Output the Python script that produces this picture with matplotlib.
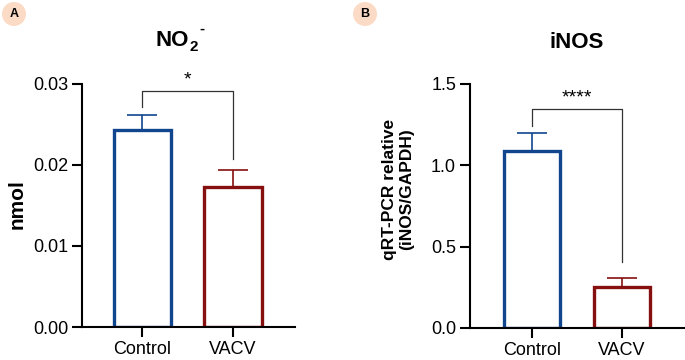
import matplotlib
matplotlib.use("Agg")
import matplotlib.pyplot as plt
from matplotlib.patches import Ellipse

plt.rcParams['font.family'] = ['Liberation Sans', 'DejaVu Sans']

groups = ["Control", "VACV"]
colors = ["#11468f", "#860f0f"]

# panel A: NO2- (nmol)
no2_mean = [0.0243, 0.0173]
no2_sem = [0.0019, 0.0021]
no2_ticks = [0.00, 0.01, 0.02, 0.03]
no2_ticklabels = ["0.00", "0.01", "0.02", "0.03"]
no2_bracket = [0.0272, 0.0291, 0.0207]  # left leg end, top, right leg end
no2_sig = "*"

# panel B: iNOS qRT-PCR
inos_mean = [1.088, 0.25]
inos_sem = [0.11, 0.06]
inos_ticks = [0.0, 0.5, 1.0, 1.5]
inos_ticklabels = ["0.0", "0.5", "1.0", "1.5"]
inos_bracket = [1.24, 1.346, 0.405]
inos_sig = "****"

fig = plt.figure(figsize=(6.85, 3.6), dpi=100)
W, H = 685, 360


def px_axes(x0, x1, y_top, y_bot):
    return fig.add_axes([x0 / W, (H - y_bot) / H, (x1 - x0) / W, (y_bot - y_top) / H])


def draw_panel(ax, means, sems, ticks, ticklabels, bracket, sig, xlim, sig_size):
    x = range(len(groups))
    for i in x:
        ax.bar(i, means[i], width=0.63, facecolor="white", edgecolor=colors[i],
               linewidth=2.4, zorder=2)
        ax.errorbar(i, means[i], yerr=[[0], [sems[i]]], color=colors[i],
                    elinewidth=1.2, capsize=11, capthick=1.2, zorder=1)
    ax.set_xlim(*xlim)
    ax.set_ylim(ticks[0], ticks[-1])
    ax.set_yticks(ticks)
    ax.set_yticklabels(ticklabels)
    ax.set_xticks(list(x))
    ax.set_xticklabels(groups)
    for s in ["top", "right"]:
        ax.spines[s].set_visible(False)
    for s in ["left", "bottom"]:
        ax.spines[s].set_linewidth(1.5)
    ax.tick_params(axis="both", width=1.5, length=7, labelsize=13)
    ax.tick_params(axis="x", pad=3)
    ax.tick_params(axis="y", pad=3)
    # significance bracket
    ax.plot([0, 0, 1, 1], [bracket[0], bracket[1], bracket[1], bracket[2]],
            color="#333333", linewidth=0.9, clip_on=False)
    ax.text(0.5, bracket[1] + (ticks[-1] - ticks[0]) * 0.012, sig, ha="center",
            va="bottom", fontsize=sig_size, clip_on=False)


axA = px_axes(82, 295, 84, 327)
draw_panel(axA, no2_mean, no2_sem, no2_ticks, no2_ticklabels, no2_bracket, no2_sig,
           (-0.668, 1.685), 14)
axB = px_axes(470, 685, 84, 328)
draw_panel(axB, inos_mean, inos_sem, inos_ticks, inos_ticklabels, inos_bracket, inos_sig,
           (-0.69, 1.70), 14)

# titles
fig.text(189 / W, 1 - 46 / H, "NO", ha="right", va="baseline", fontsize=16,
         fontweight="bold")
fig.text(190 / W, 1 - 51 / H, "2", ha="left", va="baseline", fontsize=11,
         fontweight="bold")
fig.text(199 / W, 1 - 33 / H, "-", ha="left", va="baseline", fontsize=11,
         fontweight="bold")
fig.text(577 / W, 1 - 48 / H, "iNOS", ha="center", va="baseline", fontsize=16,
         fontweight="bold")

# y labels
fig.text(17 / W, 1 - 204 / H, "nmol", rotation=90, ha="center", va="center",
         fontsize=15, fontweight="bold")
fig.text(398 / W, 1 - 189 / H, "qRT-PCR relative\n(iNOS/GAPDH)", rotation=90,
         ha="center", va="center", fontsize=12.5, fontweight="bold", linespacing=1.15)

# panel letters
for cx, letter in [(14, "A"), (365, "B")]:
    fig.patches.append(Ellipse((cx / W, 1 - 14 / H), 24 / W, 24 / H,
                               transform=fig.transFigure,
                               facecolor="#fbdac6", edgecolor="none"))
    fig.text(cx / W, 1 - 14 / H, letter, ha="center", va="center", fontsize=9,
             fontweight="bold")

fig.savefig("out.png", dpi=100)
